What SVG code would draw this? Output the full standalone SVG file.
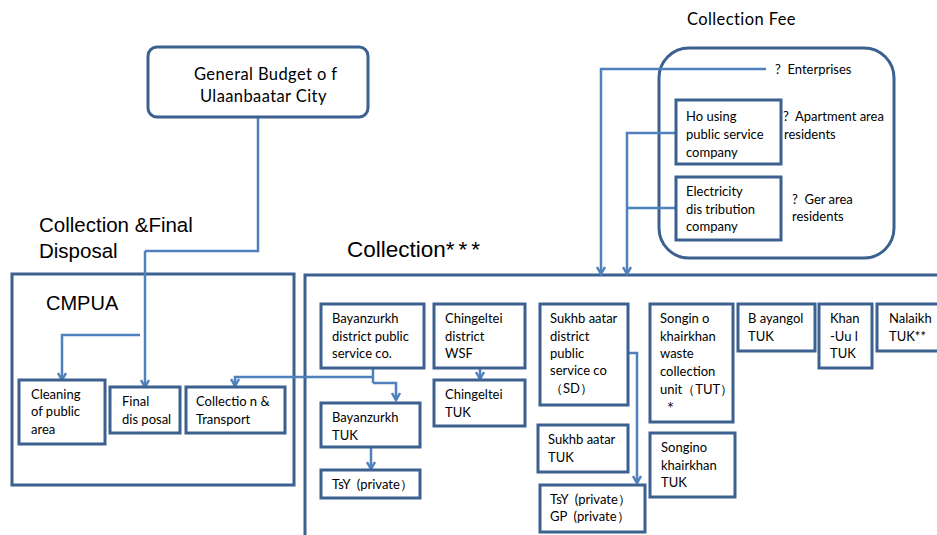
<svg xmlns="http://www.w3.org/2000/svg" width="937" height="535" viewBox="0 0 937 535">
<style>
.box{fill:#fff;stroke:#3c6190;stroke-width:3}
.big{fill:none;stroke:#3c6190;stroke-width:3}
.t{font-family:Lato,"Open Sans",sans-serif;font-size:13px;fill:#000;white-space:pre}
.t17{font-size:16.5px;letter-spacing:0.4px}
.h{font-family:"Liberation Sans",Arial,sans-serif;fill:#000}
.c{fill:none;stroke:#4f81bd;stroke-width:2.5}
.ca{fill:none;stroke:#4f81bd;stroke-width:2.5;marker-end:url(#ar)}
</style>
<defs>
<marker id="ar" viewBox="0 0 10 10" refX="8" refY="5" markerWidth="10" markerHeight="10" markerUnits="userSpaceOnUse" orient="auto">
<path d="M1,1 L8,5 L1,9" fill="none" stroke="#4f81bd" stroke-width="2.5"/>
</marker>
</defs>
<rect width="937" height="535" fill="#fff"/>

<g id="labels">
<text class="h" x="39" y="232" font-size="20.5">Collection &amp;Final</text>
<text class="h" x="39" y="258" font-size="20.5">Disposal</text>
<text class="h" x="347" y="257" font-size="22.5">Collection<tspan letter-spacing="4">***</tspan></text>
<text class="t t17" x="687" y="25">Collection Fee</text>
</g>

<g id="cmpua">
<rect class="big" x="12" y="274" width="282" height="211"/>
<text class="h" x="46" y="310" font-size="20">CMPUA</text>
</g>
<g id="collection">
<rect class="big" x="305" y="275" width="660" height="300"/>
</g>
<g id="collection-fee">
<rect class="big" x="659" y="48" width="235" height="210" rx="30"/>
</g>

<g id="connectors">
<path class="c" d="M258,117 V251 H145"/>
<path class="ca" d="M145,251 V387"/>
<path class="ca" d="M140,335 H62 V380"/>
<path class="c" d="M373,368 V383"/>
<path class="ca" d="M373,377 H235 V386"/>
<path class="ca" d="M373,383 H396 V400"/>
<path class="ca" d="M371,447 V469"/>
<path class="ca" d="M480,368 V379"/>
<path class="ca" d="M628,353 H637 V483"/>
<path class="ca" d="M766,69 H601 V274"/>
<path class="ca" d="M676,133 H627 V274"/>
<path class="c" d="M676,208 H627"/>
</g>

<g id="general-budget">
<rect class="box" x="148" y="47" width="220" height="70" rx="9"/>
<text class="t t17" x="194" y="80">General Budget o f</text>
<text class="t t17" x="200" y="102">Ulaanbaatar City</text>
</g>

<g id="cleaning">
<rect class="box" x="19" y="380" width="86" height="64"/>
<text class="t" x="31" y="399">Cleaning</text>
<text class="t" x="31" y="416">of public</text>
<text class="t" x="31" y="434">area</text>
</g>
<g id="final-disposal">
<rect class="box" x="110" y="387" width="70" height="46"/>
<text class="t" x="122" y="406">Final</text>
<text class="t" x="122" y="424">dis posal</text>
</g>
<g id="collection-transport">
<rect class="box" x="186" y="387" width="99" height="46"/>
<text class="t" x="196" y="406">Collectio n &amp;</text>
<text class="t" x="196" y="424">Transport</text>
</g>

<g id="enterprises">
<text class="t" x="775" y="74">?  Enterprises</text>
</g>
<g id="housing">
<rect class="box" x="676" y="100" width="105" height="64"/>
<text class="t" x="686" y="121">Ho using</text>
<text class="t" x="686" y="139">public service</text>
<text class="t" x="686" y="157">company</text>
</g>
<text class="t" x="783" y="121">?  Apartment area</text>
<text class="t" x="784" y="139">residents</text>
<g id="electricity">
<rect class="box" x="676" y="177" width="105" height="63"/>
<text class="t" x="686" y="196">Electricity</text>
<text class="t" x="686" y="214">dis tribution</text>
<text class="t" x="686" y="231">company</text>
</g>
<text class="t" x="792" y="204">?  Ger area</text>
<text class="t" x="792" y="221">residents</text>

<g id="bayanzurkh-ps">
<rect class="box" x="321" y="304" width="103" height="64"/>
<text class="t" x="332" y="323">Bayanzurkh</text>
<text class="t" x="332" y="341">district public</text>
<text class="t" x="332" y="358">service co.</text>
</g>
<g id="bayanzurkh-tuk">
<rect class="box" x="321" y="403" width="99" height="44"/>
<text class="t" x="332" y="422">Bayanzurkh</text>
<text class="t" x="332" y="440">TUK</text>
</g>
<g id="bayanzurkh-tsy">
<rect class="box" x="321" y="470" width="99" height="28"/>
<text class="t" x="332" y="489">TsY  (private）</text>
</g>
<g id="chingeltei-wsf">
<rect class="box" x="434" y="304" width="91" height="64"/>
<text class="t" x="445" y="323">Chingeltei</text>
<text class="t" x="445" y="341">district</text>
<text class="t" x="445" y="358">WSF</text>
</g>
<g id="chingeltei-tuk">
<rect class="box" x="434" y="380" width="91" height="46"/>
<text class="t" x="445" y="399">Chingeltei</text>
<text class="t" x="445" y="417">TUK</text>
</g>
<g id="sukhbaatar-ps">
<rect class="box" x="540" y="304" width="88" height="101"/>
<text class="t" x="550" y="323">Sukhb aatar</text>
<text class="t" x="550" y="341">district</text>
<text class="t" x="550" y="358">public</text>
<text class="t" x="550" y="375">service co</text>
<text class="t" x="550" y="393">（SD）</text>
</g>
<g id="sukhbaatar-tuk">
<rect class="box" x="538" y="425" width="90" height="47"/>
<text class="t" x="548" y="444">Sukhb aatar</text>
<text class="t" x="548" y="462">TUK</text>
</g>
<g id="sukhbaatar-private">
<rect class="box" x="540" y="485" width="105" height="47"/>
<text class="t" x="550" y="504">TsY  (private）</text>
<text class="t" x="550" y="521">GP  (private）</text>
</g>
<g id="songino-unit">
<rect class="box" x="650" y="304" width="83" height="118"/>
<text class="t" x="660" y="323">Songin o</text>
<text class="t" x="660" y="341">khairkhan</text>
<text class="t" x="660" y="358">waste</text>
<text class="t" x="660" y="376">collection</text>
<text class="t" x="660" y="394">unit（TUT）</text>
<text class="t" x="664" y="411">＊</text>
</g>
<g id="songino-tuk">
<rect class="box" x="650" y="433" width="85" height="64"/>
<text class="t" x="661" y="452">Songino</text>
<text class="t" x="661" y="470">khairkhan</text>
<text class="t" x="661" y="487">TUK</text>
</g>
<g id="bayangol">
<rect class="box" x="738" y="304" width="77" height="47"/>
<text class="t" x="748" y="323">B ayangol</text>
<text class="t" x="748" y="341">TUK</text>
</g>
<g id="khan-uul">
<rect class="box" x="819" y="304" width="53" height="64"/>
<text class="t" x="830" y="323">Khan</text>
<text class="t" x="830" y="341">-Uu l</text>
<text class="t" x="830" y="358">TUK</text>
</g>
<g id="nalaikh">
<rect class="box" x="877" y="304" width="80" height="47"/>
<text class="t" x="889" y="323">Nalaikh</text>
<text class="t" x="889" y="341">TUK**</text>
</g>
</svg>
